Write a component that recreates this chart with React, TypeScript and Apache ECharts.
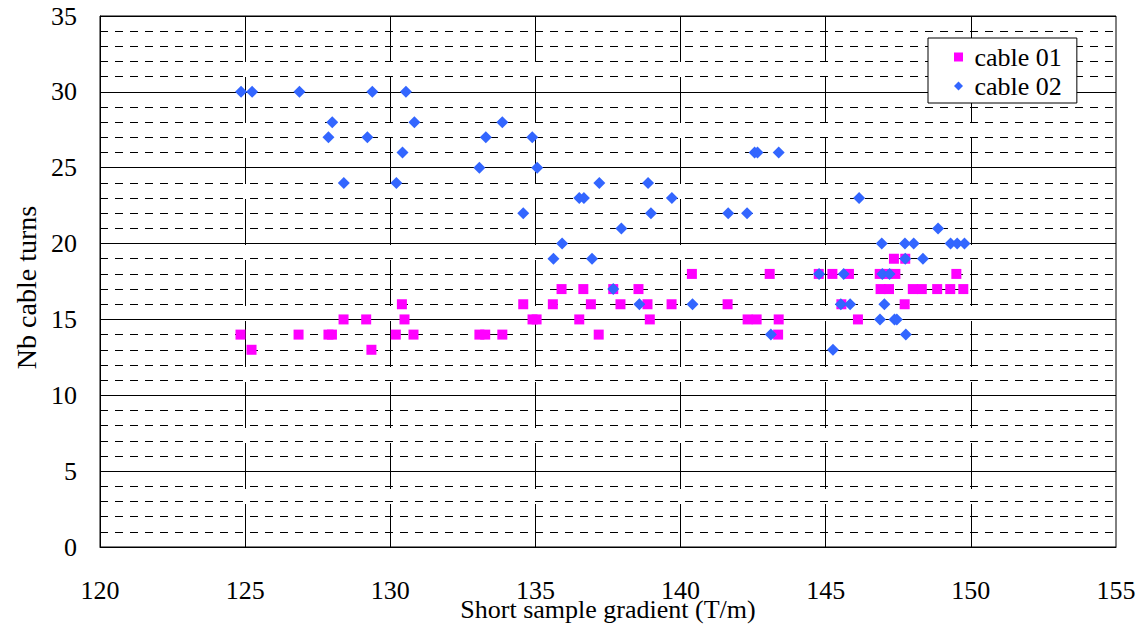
import React, { useEffect, useRef } from "react";
import * as echarts from "echarts";

const xTicks = { min: 120, max: 155, interval: 5 };
const yTicks = { min: 0, max: 35, interval: 5 };

const cable01: [number, number][] = [
  [124.84, 14], [125.22, 13], [126.84, 14], [127.87, 14], [127.99, 14],
  [128.39, 15], [129.17, 15], [129.35, 13], [130.19, 14], [130.40, 16],
  [130.49, 15], [130.80, 14], [133.07, 14], [133.27, 14], [133.86, 14],
  [134.58, 16], [134.9, 15], [135.04, 15], [135.6, 16], [135.9, 17],
  [136.51, 15], [136.65, 17], [136.91, 16], [137.18, 14], [137.68, 17],
  [137.93, 16], [138.55, 17], [138.86, 16], [138.94, 15], [139.69, 16],
  [140.39, 18], [141.62, 16], [142.31, 15], [142.62, 15], [143.07, 18],
  [143.38, 15], [143.36, 14], [144.76, 18], [145.23, 18], [145.54, 16],
  [145.80, 18], [146.11, 15], [146.86, 18], [147.13, 18], [147.40, 18],
  [146.89, 17], [147.18, 17], [147.35, 19], [147.74, 19], [147.72, 16],
  [148.0, 17], [148.31, 17], [148.84, 17], [149.29, 17], [149.50, 18],
  [149.74, 17],
];

const cable02: [number, number][] = [
  [124.86, 30], [125.24, 30], [126.87, 30], [129.38, 30], [130.54, 30],
  [128.0, 28], [130.83, 28], [133.86, 28], [127.87, 27], [129.21, 27],
  [133.29, 27], [134.89, 27], [130.42, 26], [133.07, 25], [135.06, 25],
  [128.4, 24], [130.21, 24], [134.58, 22], [135.62, 19], [135.92, 20],
  [142.55, 26], [142.65, 26], [143.38, 26], [137.2, 24], [138.88, 24],
  [136.51, 23], [136.67, 23], [139.7, 23], [138.98, 22], [141.64, 22],
  [142.29, 22], [137.96, 21], [136.95, 19], [137.68, 17], [138.58, 16],
  [140.41, 16], [143.11, 14], [145.25, 13], [144.77, 18], [146.15, 23],
  [148.87, 21], [146.93, 20], [147.73, 20], [148.03, 20], [149.30, 20],
  [149.53, 20], [149.78, 20], [147.74, 19], [148.35, 19], [145.62, 18],
  [146.95, 18], [147.2, 18], [145.52, 16], [145.84, 16], [147.02, 16],
  [146.87, 15], [147.37, 15], [147.45, 15], [147.76, 14],
];

const seriesNames = ["cable 01", "cable 02"];
const xTitle = "Short sample gradient (T/m)";
const yTitle = "Nb cable turns";

const FONT = '"Liberation Serif", "Times New Roman", Times, serif';

export default function App() {
  const ref = useRef<HTMLDivElement>(null);
  useEffect(() => {
    if (!ref.current) return;
    const chart = echarts.init(ref.current, null, { renderer: "svg" });
    chart.setOption({
      animation: false,
      backgroundColor: "#fff",
      textStyle: { fontFamily: FONT, color: "#000" },
      grid: {
        left: 100,
        top: 16,
        right: 26,
        bottom: 81,
        outerBoundsMode: "none",
        containLabel: false,
        show: true,
        borderColor: "#000",
        borderWidth: 1,
        backgroundColor: "#fff",
      },
      legend: {
        orient: "vertical",
        left: 928,
        top: 38,
        padding: [6, 15, 4, 26],
        itemGap: 3,
        itemWidth: 22,
        itemHeight: 9,
        backgroundColor: "#fff",
        borderColor: "#000",
        borderWidth: 1,
        borderRadius: 0,
        textStyle: { fontFamily: FONT, fontSize: 26, color: "#000" },
        data: [
          { name: seriesNames[0], icon: "path://M0,0H10V10H0Z" },
          { name: seriesNames[1], icon: "path://M5,0L10,5L5,10L0,5Z" },
        ],
      },
      xAxis: {
        type: "value",
        min: xTicks.min,
        max: xTicks.max,
        interval: xTicks.interval,
        name: xTitle,
        nameLocation: "middle",
        nameGap: 49,
        nameMoveOverlap: false,
        nameTextStyle: { fontFamily: FONT, fontSize: 26, color: "#000" },
        axisLine: { show: true, lineStyle: { color: "#000", width: 1 } },
        axisTick: { show: false },
        axisLabel: { fontFamily: FONT, fontSize: 26, color: "#000", margin: 30 },
        splitLine: {
          show: true,
          showMinLine: false,
          showMaxLine: false,
          lineStyle: { color: "#000", width: 1, type: [46, 15] },
        },
      },
      yAxis: {
        type: "value",
        min: yTicks.min,
        max: yTicks.max,
        interval: yTicks.interval,
        name: yTitle,
        nameLocation: "middle",
        nameGap: 60,
        nameMoveOverlap: false,
        nameTextStyle: {
          fontFamily: FONT,
          fontSize: 28,
          color: "#000",
          padding: [0, 12, 0, 0],
        },
        axisLine: { show: true, lineStyle: { color: "#000", width: 1 } },
        axisTick: { show: false },
        axisLabel: { fontFamily: FONT, fontSize: 26, color: "#000", margin: 23 },
        splitLine: { show: true, lineStyle: { color: "#000", width: 1 } },
        minorTick: { show: false, splitNumber: 5 },
        minorSplitLine: {
          show: true,
          lineStyle: { color: "#000", width: 1, type: [8, 7] },
        },
      },
      series: [
        {
          name: seriesNames[0],
          type: "scatter",
          symbol: "rect",
          symbolSize: 10,
          itemStyle: { color: "#FF00FF", opacity: 1 },
          data: cable01,
        },
        {
          name: seriesNames[1],
          type: "scatter",
          symbol: "diamond",
          symbolSize: 12,
          itemStyle: { color: "#3366FF", opacity: 1 },
          data: cable02,
        },
      ],
    });
    return () => chart.dispose();
  }, []);
  return (
    <div
      ref={ref}
      style={{ position: "absolute", left: 0, top: 0, width: 1142, height: 628 }}
    />
  );
}
